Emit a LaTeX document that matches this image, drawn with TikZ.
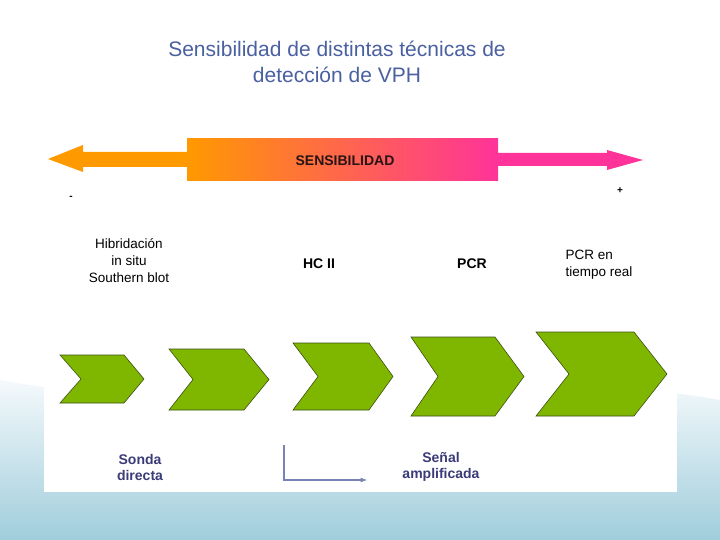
\documentclass[tikz,border=0pt]{standalone}
\usepackage{fontspec}
\setmainfont{Liberation Sans}
\definecolor{orng}{RGB}{255,153,0}
\definecolor{pnk}{RGB}{255,51,153}
\definecolor{chg}{RGB}{127,182,0}
\definecolor{chd}{RGB}{60,80,20}
\definecolor{navy}{RGB}{59,59,122}
\definecolor{ttl}{RGB}{74,96,160}
\definecolor{arr}{RGB}{120,130,180}
\definecolor{bgb}{RGB}{160,205,220}
\definecolor{dk}{RGB}{40,20,20}
\begin{document}
\begin{tikzpicture}[x=1pt,y=-1pt,
  chev/.style={fill=chg, draw=chd, line width=0.6pt},
  lbl/.style={font=\fontsize{14}{16}\selectfont\bfseries, text=navy, align=center},
  blk/.style={font=\fontsize{13.5}{17}\selectfont, align=center}]
\useasboundingbox (0,0) rectangle (720,540);
\fill[white] (0,0) rectangle (720,540);
\shade[top color=white, bottom color=bgb] (0,380) .. controls (200,420) and (500,360) .. (720,400) -- (720,540) -- (0,540) -- cycle;
\fill[white] (44,133) rectangle (677,492);
\node[font=\fontsize{21}{26}\selectfont, text=ttl, align=center] (title) at (337,62) {Sensibilidad de distintas técnicas de\\detección de VPH};
\fill[orng] (48,159) -- (83,145) -- (83,152) -- (190,152) -- (190,167) -- (83,167) -- (83,172) -- cycle;
\fill[pnk] (495,153) -- (607,153) -- (607,150) -- (643,160) -- (607,170) -- (607,166) -- (495,166) -- cycle;
\shade[left color=orng, right color=pnk] (187,139) rectangle (498,181);
\node[font=\fontsize{14}{16}\selectfont\bfseries, text=dk] (bar) at (345,161) {SENSIBILIDAD};
\node[font=\bfseries] (minus) at (71,198) {-};
\node[font=\bfseries] (plus) at (620,191) {+};
\node[blk] (hib) at (129,261) {Hibridación\\in situ\\Southern blot};
\node[blk,font=\fontsize{14}{17}\selectfont\bfseries] (hc) at (319,264) {HC II};
\node[blk,font=\fontsize{14}{17}\selectfont\bfseries] (pcr) at (472,264) {PCR};
\node[blk,align=left] (rt) at (599,265) {PCR en\\tiempo real};
\foreach \l/\n/\r/\t/\tp/\b in {60/81/124/144/355/403, 169/193/244/269/349/410, 293/318/369/393/343/410, 411/438/495/524/337/416, 536/569/634/667/332/416}{
  \path[chev] (\l,\tp) -- (\r,\tp) -- (\t,{(\tp+\b)/2}) -- (\r,\b) -- (\l,\b) -- (\n,{(\tp+\b)/2}) -- cycle;
}
\node[lbl] (sonda) at (140,467) {Sonda\\directa};
\node[lbl] (senal) at (441,467) {Señal\\amplificada};
\coordinate (a0) at (284,445);
\coordinate (a1) at (367,480);
\draw[arr, line width=1.2pt, -latex] (a0) |- (a1);
\end{tikzpicture}
\end{document}
